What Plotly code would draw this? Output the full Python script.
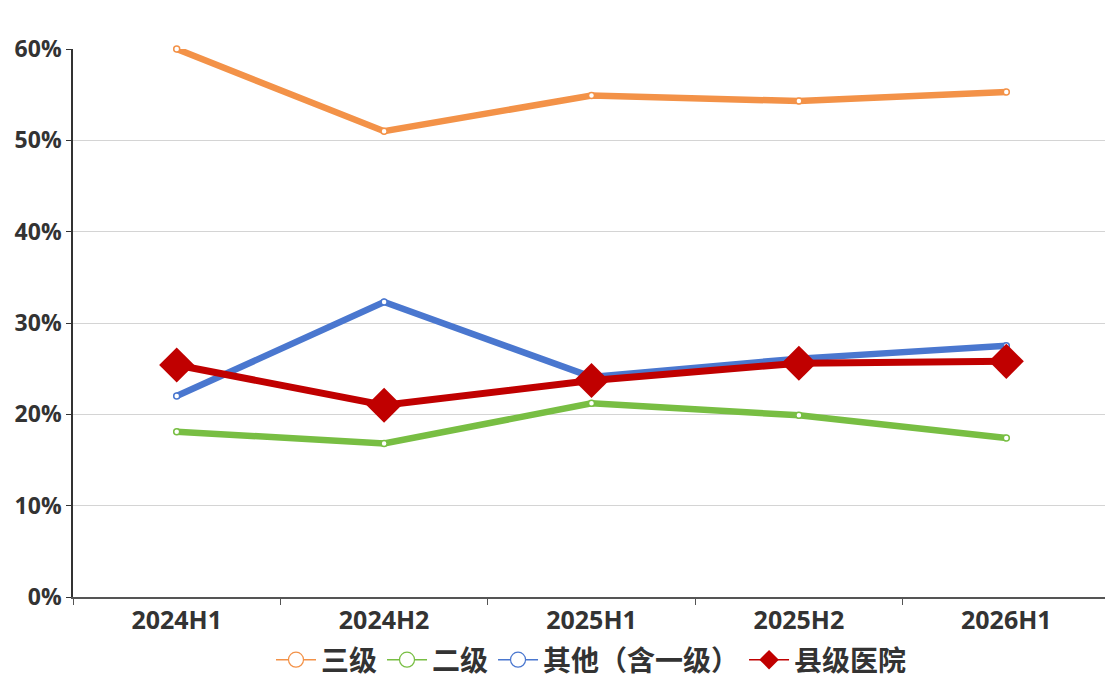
import plotly.graph_objects as go

# periods and share of each hospital tier
periods = ['2024H1', '2024H2', '2025H1', '2025H2', '2026H1']
tier3 = [0.600, 0.510, 0.549, 0.543, 0.553]
tier2 = [0.181, 0.168, 0.212, 0.199, 0.174]
other = [0.220, 0.323, 0.241, 0.261, 0.275]
county = [0.254, 0.210, 0.237, 0.256, 0.258]

names = ['三级', '二级', '其他（含一级）', '县级医院']
colors = ['#F39248', '#78BE43', '#4A77CF', '#C00000']

font_family = 'Open Sans, Noto Sans CJK SC, sans-serif'

fig = go.Figure()

for name, vals, col in zip(names[:3], [tier3, tier2, other], colors[:3]):
    fig.add_trace(go.Scatter(
        x=periods, y=vals, name=name, mode='lines+markers',
        line=dict(color=col, width=6.5),
        marker=dict(symbol='circle', size=6, color='white', line=dict(color=col, width=1.5)),
        showlegend=False, cliponaxis=False,
    ))

fig.add_trace(go.Scatter(
    x=periods, y=county, name=names[3], mode='lines+markers',
    line=dict(color=colors[3], width=7),
    marker=dict(symbol='diamond', size=27, color=colors[3]),
    showlegend=False, cliponaxis=False,
))

# legend-only entries (thin line, larger symbol like the original)
for name, col in zip(names[:3], colors[:3]):
    fig.add_trace(go.Scatter(
        x=[None], y=[None], name=name, mode='lines+markers',
        line=dict(color=col, width=1.5),
        marker=dict(symbol='circle', size=15, color='white', line=dict(color=col, width=1.2)),
    ))
fig.add_trace(go.Scatter(
    x=[None], y=[None], name=names[3], mode='lines+markers',
    line=dict(color=colors[3], width=1.5),
    marker=dict(symbol='diamond', size=15, color=colors[3]),
))

# page body adds 8px offset, so margins are shifted accordingly
fig.update_layout(
    width=1113, height=687,
    paper_bgcolor='white', plot_bgcolor='white',
    margin=dict(l=65, r=11, t=41, b=98, autoexpand=False),
    font=dict(family=font_family, color='#333333', size=18),
    legend=dict(
        orientation='h', x=0.5, xanchor='center',
        yref='container', y=0.051, yanchor='middle',
        font=dict(size=28, weight='bold', color='#333333'),
        itemwidth=40, tracegroupgap=0,
    ),
)

fig.update_xaxes(
    type='category', showgrid=False, automargin=False,
    showline=True, linecolor='#555555', linewidth=1.5,
    ticks='outside', tickson='boundaries', ticklen=6, tickcolor='#555555',
    tickfont=dict(size=25, weight='bold', color='#333333'),
    range=[-0.5, 4.5],
)
fig.update_yaxes(
    range=[0, 0.6], dtick=0.1, tickformat='.0%', automargin=False,
    showgrid=True, gridcolor='#D4D4D4', gridwidth=1,
    showline=True, linecolor='#333333', linewidth=1.5,
    ticks='outside', ticklen=5, tickcolor='#333333',
    tickfont=dict(size=23, weight='bold', color='#333333'),
    zeroline=False,
)

fig.write_html('out.html')
